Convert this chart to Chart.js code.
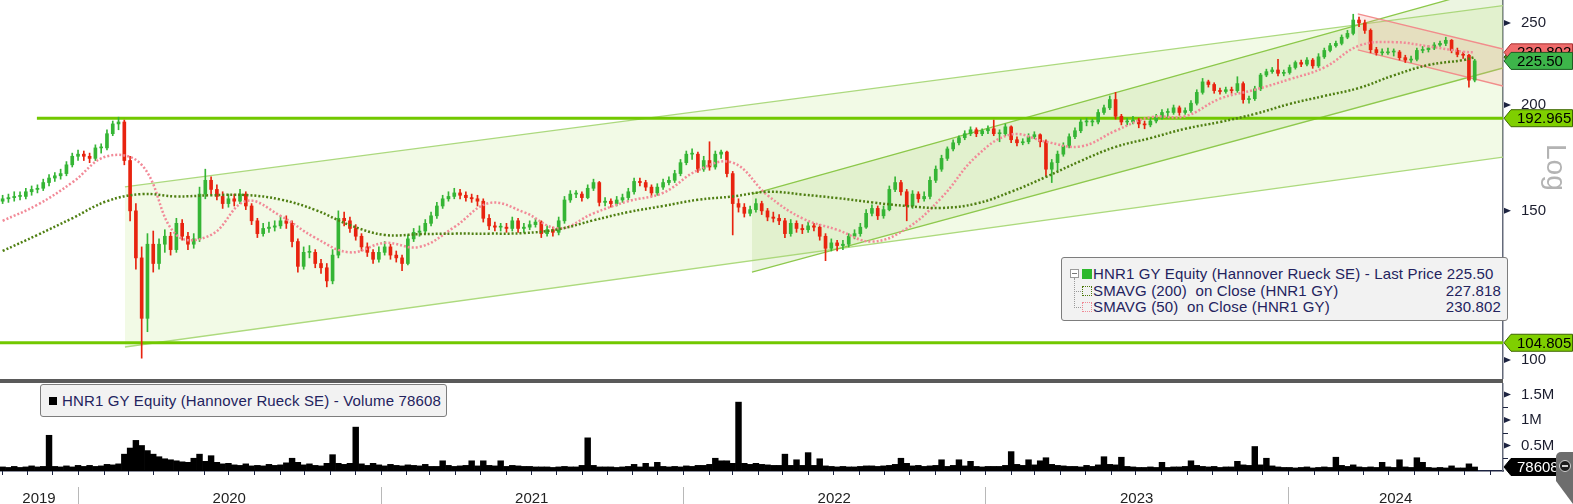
<!DOCTYPE html>
<html>
<head>
<meta charset="utf-8">
<title>HNR1 GY Equity</title>
<script src="https://cdn.jsdelivr.net/npm/chart.js@4.4.1/dist/chart.umd.min.js"></script>
<style>
  body { margin: 0; background: #fff; }
  #wrap { position: relative; width: 1573px; height: 504px; overflow: hidden; font-family: "Liberation Sans", Arial, sans-serif; }
  .pane { position: absolute; left: 0; width: 1573px; }
  #pricePane { top: 0; height: 379px; }
  #volPane { top: 383px; height: 121px; }
  #sep { position: absolute; left: 0; top: 379px; width: 1503px; height: 4px; background: #5a5a5a; }
  .legend { position: absolute; background: #f2f2f2; border: 1px solid #7d7d7d; border-radius: 3px; color: #23235e; font-size: 15px; letter-spacing: 0.15px; white-space: nowrap; }
  .legend span { position: absolute; display: block; }
  .txt { line-height: 17px; }
  .val { right: 6px; line-height: 17px; }
  #logLabel { position: absolute; left: 1533px; top: 151px; width: 46px; height: 32px; line-height: 32px; text-align: center; font-size: 28px; color: #b3b3b3; transform: rotate(90deg); }
  #grip { position: absolute; left: 1556px; top: 452px; width: 17px; height: 52px; background: #6d6d6d; border-radius: 5px 0 0 0; clip-path: polygon(0 0, 100% 0, 100% 100%, 0 56%); }
  #grip i { position: absolute; left: 3px; top: 8px; width: 10px; height: 10px; border-radius: 50%; background: #1d1d1d; border: 1px solid #d0d0d0; }
  #grip i::after { content: ""; position: absolute; left: 2px; top: 4px; width: 6px; height: 2px; background: #d0d0d0; }
</style>
</head>
<body>
<div id="wrap">
  <div class="pane" id="pricePane"><canvas id="price"></canvas></div>
  <div id="sep"></div>
  <div class="pane" id="volPane"><canvas id="volume"></canvas></div>

  <div class="legend" style="left:1061px;top:257px;width:445px;height:62px;">
    <span style="left:8px;top:11px;width:7px;height:7px;border:1px solid #9a9a9a;background:#fff;"></span>
    <span style="left:10px;top:15px;width:5px;height:1px;background:#777;"></span>
    <span style="left:12px;top:20px;width:0;height:30px;border-left:1px dotted #999;"></span>
    <span style="left:12px;top:33px;width:7px;height:0;border-top:1px dotted #999;"></span>
    <span style="left:12px;top:49px;width:7px;height:0;border-top:1px dotted #999;"></span>
    <span style="left:20px;top:11px;width:10px;height:10px;background:#2db82d;"></span>
    <span style="left:20px;top:28px;width:8px;height:8px;border:1px dotted #4d7a0d;"></span>
    <span style="left:20px;top:44px;width:8px;height:8px;border:1px dotted #f08a96;"></span>
    <span class="txt" style="left:31px;top:7px;">HNR1 GY Equity (Hannover Rueck SE) - Last Price 225.50</span>
    <span class="txt" style="left:31px;top:24px;">SMAVG (200)&nbsp; on Close (HNR1 GY)</span>
    <span class="val" style="top:24px;">227.818</span>
    <span class="txt" style="left:31px;top:40px;">SMAVG (50)&nbsp; on Close (HNR1 GY)</span>
    <span class="val" style="top:40px;">230.802</span>
  </div>

  <div class="legend" style="left:40px;top:384px;width:405px;height:31px;">
    <span style="left:8px;top:12px;width:8px;height:8px;background:#000;"></span>
    <span class="txt" style="left:21px;top:7px;">HNR1 GY Equity (Hannover Rueck SE) - Volume 78608</span>
  </div>

  <div id="logLabel">Log</div>
  <div id="grip"><i></i></div>
</div>

<script>
// weekly candles, first week starting 2 Oct 2019
const firstWeek = Date.UTC(2019, 9, 2);

const opens = [
  154, 155, 155.5, 156, 156, 158, 159, 159.5, 162, 164,
  165, 166, 170, 174, 175, 174, 173, 178, 178, 185,
  190, 191, 172, 150, 132, 112, 137, 130, 137, 140,
  135, 145, 140, 137, 139, 157, 163, 159, 156, 153,
  155, 154, 157, 152, 146, 141, 143, 143.5, 144, 146,
  145, 138, 129, 134, 134, 130, 128.5, 124, 133, 147,
  146, 143, 140, 136, 134, 131.5, 134, 136, 133, 132,
  130, 139, 141.5, 142, 145, 148, 152, 155, 156, 157.5,
  156.5, 155.5, 155, 154, 147, 144, 143.5, 143.5, 143, 146,
  143, 143.5, 144.5, 145.5, 141, 142.5, 141.5, 146, 154.5, 157,
  157, 155.5, 159.5, 162, 153.5, 154, 153, 154.5, 155.5, 158,
  162.5, 162, 160, 157.5, 160, 162, 163, 166, 171, 175,
  175, 168, 172, 169, 175, 176, 166, 153, 151.5, 149,
  150.5, 153, 150, 147.5, 147, 146, 141, 145, 143, 142.5,
  144, 143.5, 140, 135.5, 137.5, 136.5, 137, 140, 141, 143.5,
  149, 151, 148, 150.5, 159, 162, 158, 152, 157, 155,
  156, 163, 168, 173, 177.5, 180.5, 183, 185, 187, 185,
  186.5, 187.5, 185, 185, 188.5, 182, 180.5, 181, 183.5, 184.5,
  181, 168, 171, 175, 179, 183.5, 186.5, 191, 191, 191,
  196, 198.5, 203, 194, 191, 191, 192, 190, 189.5, 191.5,
  193.5, 196, 196, 198.5, 196, 197, 201, 207, 213, 211.5,
  208, 207.5, 208.5, 208, 212, 203, 203.5, 209, 217, 219,
  220, 218, 218.5, 221.5, 224.5, 223.5, 226, 222.5, 228, 232,
  235, 236.5, 240.5, 243, 252, 250, 245, 232.5, 230.5, 230.5,
  231, 231, 227.5, 226, 226.5, 232, 232.5, 233.5, 235.5, 236.5,
  238.5, 232, 229.5, 229, 214
];
const highs = [
  156.5, 157, 158, 158, 159.5, 160.5, 161, 163.5, 165.5, 166.5,
  168, 171.5, 175.5, 177, 176.5, 175.5, 179.5, 180, 187, 191.5,
  193.5, 192, 174, 153, 136, 141, 142, 139, 142.5, 141.5,
  147, 146.5, 141.5, 141, 160, 168, 164.5, 161, 158, 157,
  157, 159, 158, 153, 147, 145, 145.5, 146, 148, 148,
  146, 139, 136, 136.5, 135, 131.5, 130, 135, 150, 149.5,
  147.5, 144.5, 141, 137.5, 135, 136, 138, 137, 134.5, 133,
  140.5, 143, 144, 146.5, 149.5, 153.5, 156.5, 158, 159.5, 159,
  158, 157, 156.5, 155, 148.5, 145.5, 145, 145, 147.5, 147,
  145, 146, 147, 146, 144, 143.5, 147.5, 156, 158.5, 158.5,
  158, 161, 163.5, 162.5, 155.5, 155, 156, 157, 159.5, 164,
  164, 163, 161, 161.5, 163.5, 164.5, 167.5, 172.5, 176.5, 177.5,
  176, 174, 181, 176.5, 177, 176.5, 167, 155, 153, 152,
  155, 154, 151, 149.5, 148.5, 147, 146.5, 146, 144.5, 145.5,
  145, 144.5, 141, 139, 138.5, 138.5, 141, 142.5, 145, 150.5,
  152.5, 152, 152, 160.5, 164.5, 163, 159, 158.5, 158, 158,
  164.5, 169.5, 174.5, 178.5, 182, 184, 186.5, 188.5, 188, 187.5,
  189, 192, 187, 190, 189, 183.5, 182.5, 185, 186, 185,
  182, 172.5, 176.5, 180.5, 185, 188, 192.5, 193, 192.5, 197.5,
  200, 205, 207, 195, 193, 194, 193, 191.5, 193, 195,
  197.5, 198, 200, 199.5, 198.5, 202.5, 208.5, 215, 214, 212.5,
  209.5, 210, 210, 216, 213, 205, 210.5, 218, 220.5, 221.5,
  226.5, 220, 223, 225.5, 226, 227.5, 227, 230, 233.5, 236.5,
  238, 242, 245, 256, 254, 252, 246, 234, 233, 233.5,
  233, 232, 229, 228.5, 233.5, 234.5, 235, 237, 238, 240.5,
  239, 233.5, 231, 229.5, 226.5
];
const lows = [
  153, 153.5, 154, 154.5, 155, 156.5, 157.5, 158.5, 160.5, 162.5,
  163.5, 165, 169, 172, 172, 171, 172, 175.5, 177, 184,
  187, 170, 146, 128, 100.5, 108, 127, 128, 134, 133,
  134, 138.5, 135, 135.5, 138, 155, 157, 154.5, 151, 151.5,
  152, 153, 150.5, 144.5, 139.5, 140, 141.5, 142, 143, 143,
  136, 127, 128, 132, 128.5, 126.5, 122, 123, 132, 144,
  141.5, 138.5, 134.5, 132.5, 130, 130.5, 133, 131.5, 130.5, 127.5,
  129.5, 138, 140, 141, 144, 147, 151, 154, 155, 155,
  154, 153.5, 152, 145.5, 142.5, 142, 142, 141.5, 142, 141.5,
  141.5, 142.5, 143.5, 139.5, 140, 140, 140.5, 145, 153.5, 155.5,
  154, 155, 158.5, 152, 152, 151.5, 152, 153.5, 154.5, 157,
  160.5, 158.5, 156, 156.5, 159, 161, 162, 165, 170, 172.5,
  166.5, 167, 167.5, 168, 173, 164.5, 140.5, 149.5, 147.5, 148,
  149.5, 148.5, 146, 145.5, 144.5, 139.5, 140, 141.5, 141, 141.5,
  142, 138.5, 131, 134.5, 134.5, 135, 136, 139, 140, 143,
  148, 146.5, 147, 150, 158, 156.5, 146, 151, 153.5, 154,
  155, 162, 167, 172, 176.5, 179.5, 182, 184, 183.5, 184,
  185, 184, 181, 184, 180.5, 179, 179.5, 180, 182.5, 178.5,
  165, 162, 167, 174, 178, 182.5, 185.5, 189, 189, 190,
  195, 197.5, 192.5, 189.5, 189.5, 190, 188, 187.5, 188.5, 190.5,
  192.5, 193, 195, 194.5, 195, 196, 200, 206, 210, 206.5,
  206, 206.5, 206.5, 207, 201, 201, 202.5, 208, 216, 218,
  216.5, 216.5, 217.5, 220.5, 222, 222.5, 221, 221.5, 227, 231,
  234, 235.5, 239.5, 242, 247.5, 243, 230.5, 229, 229, 229.5,
  228.5, 226, 224.5, 224.5, 225.5, 230.5, 231, 232.5, 234.5, 235,
  230.5, 228, 227, 210, 213
];
const closes = [
  155, 155.5, 156, 156, 158, 159, 159.5, 162, 164, 165,
  166, 170, 174, 175, 174, 173, 178, 178, 185, 190,
  191, 172, 150, 132, 112, 137, 130, 137, 140, 135,
  145, 140, 137, 139, 157, 163, 159, 156, 153, 155,
  154, 157, 152, 146, 141, 143, 143.5, 144, 146, 145,
  138, 129, 134, 134, 130, 128.5, 124, 133, 147, 146,
  143, 140, 136, 134, 131.5, 134, 136, 133, 132, 130,
  139, 141.5, 142, 145, 148, 152, 155, 156, 157.5, 156.5,
  155.5, 155, 154, 147, 144, 143.5, 143.5, 143, 146, 143,
  143.5, 144.5, 145.5, 141, 142.5, 141.5, 146, 154.5, 157, 157,
  155.5, 159.5, 162, 153.5, 154, 153, 154.5, 155.5, 158, 162.5,
  162, 160, 157.5, 160, 162, 163, 166, 171, 175, 175,
  168, 172, 169, 175, 176, 166, 153, 151.5, 149, 150.5,
  153, 150, 147.5, 147, 146, 141, 145, 143, 142.5, 144,
  143.5, 140, 135.5, 137.5, 136.5, 137, 140, 141, 143.5, 149,
  151, 148, 150.5, 159, 162, 158, 152, 157, 155, 156,
  163, 168, 173, 177.5, 180.5, 183, 185, 187, 185, 186.5,
  187.5, 185, 185, 188.5, 182, 180.5, 181, 183.5, 184.5, 181,
  168, 171, 175, 179, 183.5, 186.5, 191, 191, 191, 196,
  198.5, 203, 194, 191, 191, 192, 190, 189.5, 191.5, 193.5,
  196, 196, 198.5, 196, 197, 201, 207, 213, 211.5, 208,
  207.5, 208.5, 208, 212, 203, 203.5, 209, 217, 219, 220,
  218, 218.5, 221.5, 224.5, 223.5, 226, 222.5, 228, 232, 235,
  236.5, 240.5, 243, 252, 250, 245, 232.5, 230.5, 230.5, 231,
  231, 227.5, 226, 226.5, 232, 232.5, 233.5, 235.5, 236.5, 238.5,
  232, 229.5, 229, 214, 225.5
];
// typical daily volume for each week, thousands of shares
const volumesK = [
  80, 70, 90, 70, 80, 100, 80, 90, 700, 90,
  80, 100, 80, 110, 90, 110, 90, 100, 130, 120,
  140, 330, 450, 600, 500, 400, 330, 280, 240, 220,
  200, 180, 170, 250, 330, 190, 300, 170, 140, 150,
  120, 110, 140, 100, 110, 100, 130, 110, 120, 160,
  250, 170, 120, 140, 110, 100, 150, 320, 150, 130,
  150, 860, 140, 110, 150, 120, 100, 130, 110, 100,
  120, 110, 100, 130, 90, 90, 200, 110, 90, 100,
  110, 200, 100, 200, 110, 100, 200, 90, 110, 100,
  90, 90, 80, 80, 80, 70, 80, 90, 80, 80,
  110, 650, 110, 80, 80, 80, 70, 80, 90, 130,
  80, 150, 80, 170, 90, 80, 90, 80, 100, 90,
  110, 110, 130, 250, 200, 200, 150, 1350, 150, 130,
  150, 130, 120, 110, 110, 330, 110, 220, 110, 360,
  110, 240, 100, 90, 80, 90, 80, 80, 90, 100,
  100, 90, 100, 110, 130, 250, 150, 100, 110, 90,
  100, 110, 220, 90, 110, 220, 100, 190, 90, 80,
  90, 90, 90, 110, 380, 130, 110, 220, 120, 200,
  260, 130, 110, 100, 90, 90, 80, 110, 90, 120,
  280, 130, 120, 270, 90, 80, 70, 70, 80, 70,
  170, 70, 80, 80, 90, 200, 110, 90, 80, 90,
  70, 80, 80, 190, 120, 110, 480, 120, 250, 100,
  80, 70, 70, 60, 70, 80, 60, 70, 80, 70,
  270, 110, 90, 120, 80, 70, 80, 70, 170, 80,
  70, 220, 80, 70, 260, 170, 70, 60, 70, 60,
  100, 60, 60, 140, 78.608
];

// moving averages as drawn, sampled at these weeks
const smaWeeks = [0, 6, 12, 18, 24, 30, 36, 42, 48, 54, 60, 66, 72, 78, 84, 90, 96, 102, 108, 114,
  120, 126, 132, 138, 144, 150, 156, 162, 168, 174, 180, 186, 192, 198, 204, 210, 216, 222, 228, 234,
  240, 246, 252, 254];
const sma200 = [134.5, 140.5, 147, 154, 157, 156, 156.5, 156.6, 154.7, 150.4,
  144.3, 140.5, 140.8, 141, 141, 141.2, 142.7, 146.2, 149.5, 152,
  154.6, 156, 158, 156.8, 155.3, 153.5, 152, 151.2, 153, 158,
  164.5, 171.8, 178.5, 182.8, 187.5, 191, 195.2, 200.6, 205, 209.5,
  216.8, 223, 226, 227.818];
const sma50 = [146, 152.5, 162, 174, 170, 140.5, 140.5, 154, 148, 139.4,
  134, 137.5, 136, 143.5, 153.2, 149.5, 143, 149, 154, 157.5,
  167.5, 171, 156.5, 147, 142.5, 138, 143, 155.5, 174, 184.6,
  181, 178.7, 186.5, 193.5, 194, 203.5, 208.5, 214.5, 221.5, 235,
  237.3, 234.6, 231.2, 230.802];

// trend channels and levels (dates as fractional years, prices)
const channelA = { from: 2020.155, to: 2024.711, upper: [160.1, 262], lower: [103.6, 173.6] };
const channelB = { from: 2022.228, to: 2024.711, upper: [157, 277.5], lower: [127, 221.2] };
const channelC = { from: 2024.231, to: 2024.711, upper: [256.2, 232.9], lower: [232.3, 210.6] };
const levels = [{ value: 192.965, from: 2019.864 }, { value: 104.805, from: 2019.742 }];

const lastPrice = 225.50, lastSma200 = 227.818, lastSma50 = 230.802, lastVolumeK = 78.608;

const priceTicks = [100, 150, 200, 250];
const volumeTicks = [500, 1000, 1500];
const volumeMinor = [250, 750, 1250];
const yearTicks = [2019.871, 2020.5, 2021.5, 2022.5, 2023.5, 2024.356];
const yearLabels = ['2019', '2020', '2021', '2022', '2023', '2024'];
const yearBreaks = [2020, 2021, 2022, 2023, 2024];
const xMin = 2019.742, xMax = 2024.711;

function toYear(ms) {
  const y = new Date(ms).getUTCFullYear();
  const a = Date.UTC(y, 0, 1), b = Date.UTC(y + 1, 0, 1);
  return y + (ms - a) / (b - a);
}
const weekX = closes.map((c, i) => toYear(firstWeek + i * 7 * 86400000));

Chart.defaults.font.family = '"Liberation Sans", Arial, sans-serif';

const up = '#35b535', down = '#e8230f';
const candleColors = closes.map((c, i) => (c >= opens[i] ? up : down));

function segment(from, to, pair) {
  return [{ x: from, y: pair[0] }, { x: to, y: pair[1] }];
}
function lineSet(data, color, width, extra) {
  return Object.assign({ type: 'line', data, borderColor: color, borderWidth: width, pointRadius: 0, fill: false }, extra);
}

function drawPill(chart, x0, yc, p) {
  const ctx = chart.ctx, h = 17, x1 = x0 + 8, x2 = chart.width - 0.5;
  ctx.beginPath();
  ctx.moveTo(x0 + 1, yc);
  ctx.lineTo(x1, yc - h / 2);
  ctx.lineTo(x2, yc - h / 2);
  ctx.lineTo(x2, yc + h / 2);
  ctx.lineTo(x1, yc + h / 2);
  ctx.closePath();
  ctx.fillStyle = p.fill;
  ctx.fill();
  ctx.lineWidth = 1;
  ctx.strokeStyle = p.stroke;
  ctx.stroke();
  ctx.fillStyle = p.color;
  ctx.font = '15px "Liberation Sans", Arial, sans-serif';
  ctx.textAlign = 'left';
  ctx.textBaseline = 'middle';
  ctx.fillText(p.text, x0 + 14, yc + 1);
}
function drawArrow(ctx, x, y) {
  ctx.beginPath();
  ctx.moveTo(x, y - 3);
  ctx.lineTo(x + 7, y);
  ctx.lineTo(x, y + 3);
  ctx.closePath();
  ctx.fill();
}

const pricePills = [
  { value: lastSma200, text: '227.818', fill: '#4f8a1a', stroke: '#2d5410', color: '#fff' },
  { value: lastSma50, text: '230.802', fill: '#f06c6c', stroke: '#a83232', color: '#000' },
  { value: lastPrice, text: '225.50', fill: '#3db54a', stroke: '#1d5e22', color: '#000' },
  { value: levels[0].value, text: '192.965', fill: '#7fcf00', stroke: '#3d6600', color: '#000' },
  { value: levels[1].value, text: '104.805', fill: '#7fcf00', stroke: '#3d6600', color: '#000' }
];

const priceDecor = {
  id: 'priceDecor',
  afterDraw(chart) {
    const { ctx, chartArea, scales } = chart;
    ctx.save();
    ctx.fillStyle = '#1c2340';
    priceTicks.forEach(v => drawArrow(ctx, chartArea.right + 1, scales.y.getPixelForValue(v)));
    pricePills.forEach(p => drawPill(chart, chartArea.right, scales.y.getPixelForValue(p.value), p));
    ctx.restore();
  }
};

const volumeDecor = {
  id: 'volumeDecor',
  afterDraw(chart) {
    const { ctx, chartArea, scales } = chart;
    const x = scales.x, y = scales.y;
    ctx.save();
    ctx.strokeStyle = '#1c2340';
    ctx.lineWidth = 1;
    for (let yr = 2019; yr <= 2024; yr++) {
      for (let m = 0; m < 12; m++) {
        const v = toYear(Date.UTC(yr, m, 1));
        if (v < xMin || v > xMax) continue;
        const px = Math.round(x.getPixelForValue(v)) + 0.5;
        ctx.beginPath();
        ctx.moveTo(px, chartArea.bottom);
        ctx.lineTo(px, chartArea.bottom + 4);
        ctx.stroke();
      }
    }
    ctx.strokeStyle = '#b8b8b8';
    yearBreaks.forEach(v => {
      const px = Math.round(x.getPixelForValue(v)) + 0.5;
      ctx.beginPath();
      ctx.moveTo(px, chart.height - 17);
      ctx.lineTo(px, chart.height);
      ctx.stroke();
    });
    ctx.fillStyle = '#1c2340';
    volumeTicks.forEach(v => drawArrow(ctx, chartArea.right + 1, y.getPixelForValue(v)));
    ctx.strokeStyle = '#1c2340';
    volumeMinor.forEach(v => {
      const py = Math.round(y.getPixelForValue(v)) + 0.5;
      ctx.beginPath();
      ctx.moveTo(chartArea.right, py);
      ctx.lineTo(chartArea.right + 5, py);
      ctx.stroke();
    });
    drawPill(chart, chartArea.right, y.getPixelForValue(lastVolumeK),
      { text: '78608', fill: '#000', stroke: '#000', color: '#fff' });
    ctx.restore();
  }
};

const rightAxis = {
  position: 'right',
  grid: { display: false, drawTicks: false },
  border: { display: true, color: '#646a7a', width: 1.5 },
  afterFit: s => { s.width = 70; s.paddingTop = 0; s.paddingBottom = 0; }
};

new Chart(document.getElementById('price'), {
  type: 'bar',
  data: {
    datasets: [
      lineSet(segment(channelA.from, channelA.to, channelA.upper), '#acd97e', 1.3, { fill: 1, backgroundColor: 'rgba(190,228,130,0.2)', order: 20 }),
      lineSet(segment(channelA.from, channelA.to, channelA.lower), '#acd97e', 1.3, { order: 20 }),
      lineSet(segment(channelB.from, channelB.to, channelB.upper), '#8cc84a', 1.3, { fill: 3, backgroundColor: 'rgba(170,210,120,0.22)', order: 19 }),
      lineSet(segment(channelB.from, channelB.to, channelB.lower), '#8cc84a', 1.3, { order: 19 }),
      lineSet(segment(channelC.from, channelC.to, channelC.upper), '#f28c8c', 1.3, { fill: 5, backgroundColor: 'rgba(240,160,140,0.22)', order: 18 }),
      lineSet(segment(channelC.from, channelC.to, channelC.lower), '#f28c8c', 1.3, { order: 18 }),
      lineSet(segment(levels[0].from, xMax, [levels[0].value, levels[0].value]), '#72c800', 3, { order: 15 }),
      lineSet(segment(levels[1].from, xMax, [levels[1].value, levels[1].value]), '#72c800', 3, { order: 15 }),
      {
        type: 'bar', data: weekX.map((x, i) => ({ x, y: [lows[i], highs[i]] })),
        backgroundColor: candleColors, barThickness: 1, grouped: false, order: 4
      },
      {
        type: 'bar', data: weekX.map((x, i) => ({ x, y: [opens[i], closes[i]] })),
        backgroundColor: candleColors, barThickness: 3, minBarLength: 1, grouped: false, order: 3
      },
      lineSet(smaWeeks.map((w, k) => ({ x: weekX[w], y: sma200[k] })), '#4f7f12', 2.5, { borderDash: [2, 2], tension: 0.4, order: 1 }),
      lineSet(smaWeeks.map((w, k) => ({ x: weekX[w], y: sma50[k] })), '#f28a98', 2.5, { borderDash: [2, 2], tension: 0.4, order: 1 })
    ]
  },
  options: {
    responsive: true, maintainAspectRatio: false, animation: false,
    layout: { padding: 0 },
    plugins: { legend: { display: false }, tooltip: { enabled: false } },
    scales: {
      x: { type: 'linear', min: xMin, max: xMax, offset: false, display: false },
      y: Object.assign({}, rightAxis, {
        type: 'logarithmic', min: 94.97, max: 266.1,
        afterBuildTicks: s => { s.ticks = priceTicks.map(v => ({ value: v })); },
        ticks: { padding: 18, color: '#1b1d2e', font: { size: 15 }, callback: v => String(v) }
      })
    }
  },
  plugins: [priceDecor]
});

new Chart(document.getElementById('volume'), {
  type: 'bar',
  data: {
    datasets: [{
      data: weekX.map((x, i) => ({ x, y: volumesK[i] })),
      backgroundColor: '#000', barPercentage: 1, categoryPercentage: 1
    }]
  },
  options: {
    responsive: true, maintainAspectRatio: false, animation: false,
    layout: { padding: 0 },
    plugins: { legend: { display: false }, tooltip: { enabled: false } },
    scales: {
      x: {
        type: 'linear', min: xMin, max: xMax, offset: false,
        afterBuildTicks: s => { s.ticks = yearTicks.map(v => ({ value: v })); },
        afterFit: s => { s.height = 33; s.paddingLeft = 0; s.paddingRight = 0; },
        grid: { display: false, drawTicks: false },
        border: { display: true, color: '#1c2340', width: 1.5 },
        ticks: { autoSkip: false, maxRotation: 0, padding: 19, color: '#222', font: { size: 15 }, callback: (v, i) => yearLabels[i] }
      },
      y: Object.assign({}, rightAxis, {
        min: 0, max: 1725,
        afterBuildTicks: s => { s.ticks = volumeTicks.map(v => ({ value: v })); },
        ticks: { padding: 18, color: '#1b1d2e', font: { size: 15 }, callback: v => (v / 1000) + 'M' }
      })
    }
  },
  plugins: [volumeDecor]
});
</script>
</body>
</html>
